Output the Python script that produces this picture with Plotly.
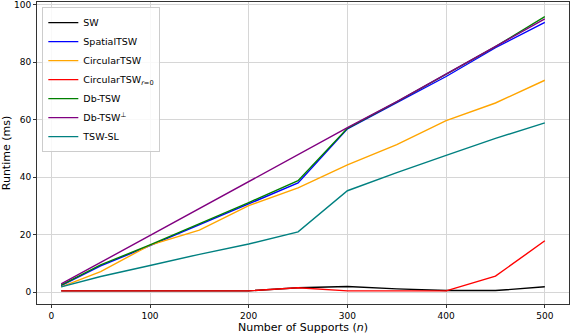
import plotly.graph_objects as go

supports = [10, 50, 100, 150, 200, 250, 300, 350, 400, 450, 500]

sw = [0.5, 0.5, 0.5, 0.5, 0.5, 1.6, 2.0, 1.2, 0.6, 0.6, 1.9]
spatial_tsw = [2.3, 9.2, 16.2, 23.5, 30.8, 38.0, 56.8, 65.8, 75.0, 85.0, 93.8]
circular_tsw = [1.9, 7.2, 16.4, 21.6, 30.1, 36.3, 44.3, 51.3, 59.7, 65.8, 73.7]
circular_tsw_r0 = [0.5, 0.5, 0.5, 0.5, 0.5, 1.6, 0.5, 0.5, 0.5, 5.6, 17.9]
db_tsw = [2.5, 9.5, 16.5, 23.8, 31.2, 38.8, 57.0, 66.2, 75.7, 85.4, 95.8]
db_tsw_perp = [2.9, 10.4, 19.7, 29.0, 38.5, 47.8, 57.2, 66.3, 75.9, 85.3, 95.0]
tsw_sl = [1.9, 5.5, 9.3, 13.2, 16.8, 21.0, 35.3, 41.6, 47.6, 53.5, 58.9]

series = [
    ("SW", sw, "black"),
    ("SpatialTSW", spatial_tsw, "blue"),
    ("CircularTSW", circular_tsw, "orange"),
    ("CircularTSW<sub><i>r</i>=0</sub>", circular_tsw_r0, "red"),
    ("Db-TSW", db_tsw, "green"),
    ("Db-TSW<sup>⊥</sup>", db_tsw_perp, "purple"),
    ("TSW-SL", tsw_sl, "teal"),
]

fig = go.Figure()
for name, vals, col in series:
    fig.add_trace(go.Scatter(x=supports, y=vals, mode="lines", name=name,
                             line=dict(color=col, width=1.4)))

font = "DejaVu Sans, sans-serif"
fig.update_layout(
    width=570, height=334,
    margin=dict(l=37, r=1, t=2, b=30, autoexpand=False),
    plot_bgcolor="white", paper_bgcolor="white",
    font=dict(family=font, size=9, color="black"),
    showlegend=True,
    legend=dict(x=0.01, y=0.983, xanchor="left", yanchor="top",
                bgcolor="rgba(255,255,255,0.85)", bordercolor="#cccccc", borderwidth=1,
                font=dict(family=font, size=9.5), tracegroupgap=0, itemwidth=30),
)
fig.update_xaxes(range=[-14.5, 524.5], tickvals=[0, 100, 200, 300, 400, 500],
                 showgrid=True, gridcolor="#d6d6d6", gridwidth=1,
                 showline=True, linecolor="#333333", linewidth=1, mirror=True,
                 ticks="outside", ticklen=3, tickcolor="#333333", zeroline=False,
                 tickfont=dict(size=9), ticklabeloverflow="allow",
                 title=dict(text="Number of Supports (<i>n</i>)", font=dict(size=11), standoff=2))
fig.update_yaxes(range=[-4.07, 100.9], tickvals=[0, 20, 40, 60, 80, 100],
                 showgrid=True, gridcolor="#d6d6d6", gridwidth=1,
                 showline=True, linecolor="#333333", linewidth=1, mirror=True,
                 ticks="outside", ticklen=3, tickcolor="#333333", zeroline=False,
                 tickfont=dict(size=9), ticklabeloverflow="allow",
                 title=dict(text="Runtime (ms)", font=dict(size=11), standoff=3))

fig.write_html("out.html", config={"displayModeBar": False},
               post_script="document.body.style.margin='0';document.body.style.padding='0';document.body.style.overflow='hidden';")
